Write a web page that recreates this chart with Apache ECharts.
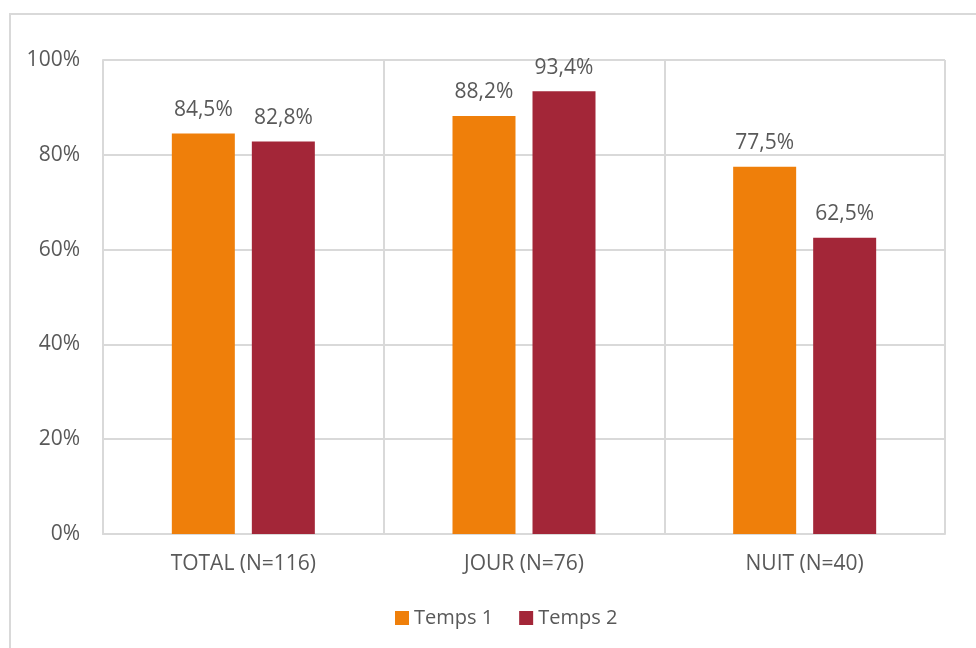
<!DOCTYPE html>
<html>
<head>
<meta charset="utf-8">
<script src="https://cdn.jsdelivr.net/npm/echarts@6/dist/echarts.min.js"></script>
<style>
  html, body { margin: 0; padding: 0; background: #fff; }
  #chart { width: 976px; height: 648px; }
</style>
</head>
<body>
<div id="chart"></div>
<script>
const categories = ['TOTAL (N=116)', 'JOUR (N=76)', 'NUIT (N=40)'];
const temps1 = [84.5, 88.2, 77.5];
const temps2 = [82.8, 93.4, 62.5];
const seriesNames = ['Temps 1', 'Temps 2'];

const chart = echarts.init(document.getElementById('chart'));
const txt = '#595959';
const grid = '#d9d9d9';
const font = 'Open Sans';

const label = {
    show: true,
    position: 'top',
    distance: 13,
    color: txt,
    fontSize: 21,
    fontFamily: font,
    formatter: (p) => p.value.toFixed(1).replace('.', ',') + '%'
};

chart.setOption({
    backgroundColor: '#fff',
    animation: false,
    graphic: [{
        type: 'rect',
        shape: { x: 10, y: 14, width: 990, height: 660 },
        style: { fill: 'none', stroke: grid, lineWidth: 2 },
        silent: true
    }],
    grid: { left: 103, right: 31, top: 60, bottom: 114 },
    legend: {
        bottom: 15,
        left: 390,
        itemWidth: 14,
        itemHeight: 14,
        itemGap: 26,
        icon: 'rect',
        textStyle: { color: txt, fontSize: 20, fontFamily: font },
        data: seriesNames
    },
    xAxis: {
        type: 'category',
        data: categories,
        axisLine: { lineStyle: { color: grid, width: 2 } },
        axisTick: { show: false },
        axisLabel: { color: txt, fontSize: 21, fontFamily: font, margin: 20 },
        splitLine: { show: true, lineStyle: { color: grid, width: 2 } }
    },
    yAxis: {
        type: 'value',
        min: 0,
        max: 100,
        interval: 20,
        axisLine: { show: true, lineStyle: { color: grid, width: 2 } },
        axisTick: { show: false },
        axisLabel: { color: txt, fontSize: 21, fontFamily: font, margin: 23, formatter: '{value}%' },
        splitLine: { lineStyle: { color: grid, width: 2 } }
    },
    series: [
        {
            name: seriesNames[0],
            type: 'bar',
            data: temps1,
            barWidth: 63,
            barGap: '27%',
            itemStyle: { color: '#EF7F0A' },
            label: label
        },
        {
            name: seriesNames[1],
            type: 'bar',
            data: temps2,
            barWidth: 63,
            itemStyle: { color: '#A32638' },
            label: label
        }
    ]
});
</script>
</body>
</html>
